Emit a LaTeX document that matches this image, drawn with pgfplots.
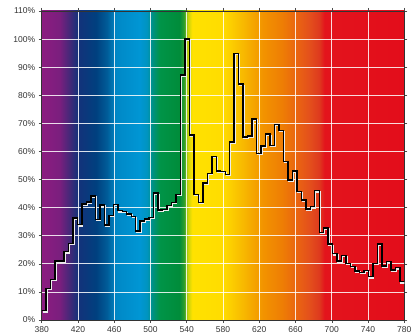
\documentclass[border=0pt]{standalone}
\usepackage{pgfplots}
\pgfplotsset{compat=1.18}
\usepackage{fontspec}
\setmainfont{Liberation Sans}

% spectrum colours, left to right
\definecolor{sp380}{HTML}{8C1C80}
\definecolor{sp400}{HTML}{7A1F7E}
\definecolor{sp412}{HTML}{3E2A78}
\definecolor{sp420}{HTML}{13327A}
\definecolor{sp440}{HTML}{00407F}
\definecolor{sp452}{HTML}{005C98}
\definecolor{sp462}{HTML}{0088C6}
\definecolor{sp488}{HTML}{0096D4}
\definecolor{sp496}{HTML}{0094C0}
\definecolor{sp503}{HTML}{00907C}
\definecolor{sp510}{HTML}{009448}
\definecolor{sp532}{HTML}{008C3A}
\definecolor{sp537}{HTML}{2F9E2C}
\definecolor{sp541}{HTML}{C4D10A}
\definecolor{sp546}{HTML}{FFE200}
\definecolor{sp580}{HTML}{FFDC00}
\definecolor{sp600}{HTML}{F8BC00}
\definecolor{sp625}{HTML}{F29200}
\definecolor{sp645}{HTML}{EE7E04}
\definecolor{sp660}{HTML}{EA6610}
\definecolor{sp675}{HTML}{E4501C}
\definecolor{sp686}{HTML}{DE3A1E}
\definecolor{sp692}{HTML}{E3141C}
\definecolor{sp780}{HTML}{E30D1B}

% 380..780 nm mapped onto 25bp..75bp
\pgfdeclarehorizontalshading{spectrum}{100bp}{
  color(0bp)=(sp380); color(25bp)=(sp380); color(27.5bp)=(sp400);
  color(29bp)=(sp412); color(30bp)=(sp420); color(32.5bp)=(sp440);
  color(34bp)=(sp452); color(35.25bp)=(sp462); color(38.5bp)=(sp488);
  color(39.5bp)=(sp496); color(40.375bp)=(sp503); color(41.25bp)=(sp510);
  color(44bp)=(sp532); color(44.625bp)=(sp537); color(45.125bp)=(sp541);
  color(45.75bp)=(sp546); color(50bp)=(sp580); color(52.5bp)=(sp600);
  color(55.625bp)=(sp625); color(58.125bp)=(sp645); color(60bp)=(sp660);
  color(61.875bp)=(sp675); color(63.25bp)=(sp686); color(64bp)=(sp692);
  color(75bp)=(sp780); color(100bp)=(sp780)}

\begin{document}
\begin{tikzpicture}
\useasboundingbox (-41.7pt,-14pt) rectangle (373.3pt,320pt);
\begin{axis}[
    at={(0,0)}, anchor=south west,
    scale only axis, width=362.6pt, height=309pt,
    xmin=0, xmax=81, ymin=0, ymax=110,
    % 81 equal bins over 380--780 nm
    xtick={0,8.1,16.2,24.3,32.4,40.5,48.6,56.7,64.8,72.9,81},
    xticklabels={380,420,460,500,540,580,620,660,700,740,780},
    ytick={0,10,...,110},
    yticklabels={0\%,10\%,20\%,30\%,40\%,50\%,60\%,70\%,80\%,90\%,100\%,110\%},
    grid=major,
    grid style={white, line width=0.8pt, opacity=0.85},
    axis line style={black!80, line width=0.6pt},
    tick align=outside, major tick length=3pt,
    tick style={black!70, line width=0.5pt},
    ticklabel style={font=\fontsize{8.5}{9}\selectfont, text=black!80},
    axis background/.style={shade, shading=spectrum},
]
\pgfplotstableread{
k v
0 3.3
1 11.2
2 14.5
3 21.0
4 21.0
5 24.3
6 27.3
7 36.3
8 33.9
9 41.3
10 42.0
11 44.2
12 35.8
13 41.0
14 33.8
15 37.3
16 41.1
17 38.9
18 38.7
19 37.8
20 36.8
21 31.7
22 35.3
23 35.9
24 36.5
25 45.2
26 39.1
27 39.4
28 40.7
29 41.8
30 44.7
31 87.2
32 100.0
33 65.8
34 44.7
35 41.8
36 48.8
37 52.1
38 58.3
39 53.1
40 52.8
41 51.9
42 63.4
43 94.8
44 84.0
45 65.2
46 65.5
47 71.6
48 59.2
49 62.0
50 66.2
51 62.2
52 69.6
53 67.4
54 56.4
55 49.8
56 53.0
57 45.7
58 42.7
59 39.5
60 40.3
61 46.0
62 31.2
63 32.8
64 27.0
65 23.6
66 21.0
67 22.9
68 20.2
69 19.0
70 17.5
71 17.0
72 17.7
73 15.4
74 20.2
75 27.0
76 19.2
77 20.8
78 17.8
79 18.6
80 13.6
81 13.6
}\spd
% light shadow under the line
\addplot[const plot, white!85!gray, line width=1.2pt, xshift=0.9pt, yshift=-1.2pt] table[x=k, y=v] {\spd};
\addplot[const plot, black, line width=1.4pt] table[x=k, y=v] {\spd};
\end{axis}
\end{tikzpicture}
\end{document}
